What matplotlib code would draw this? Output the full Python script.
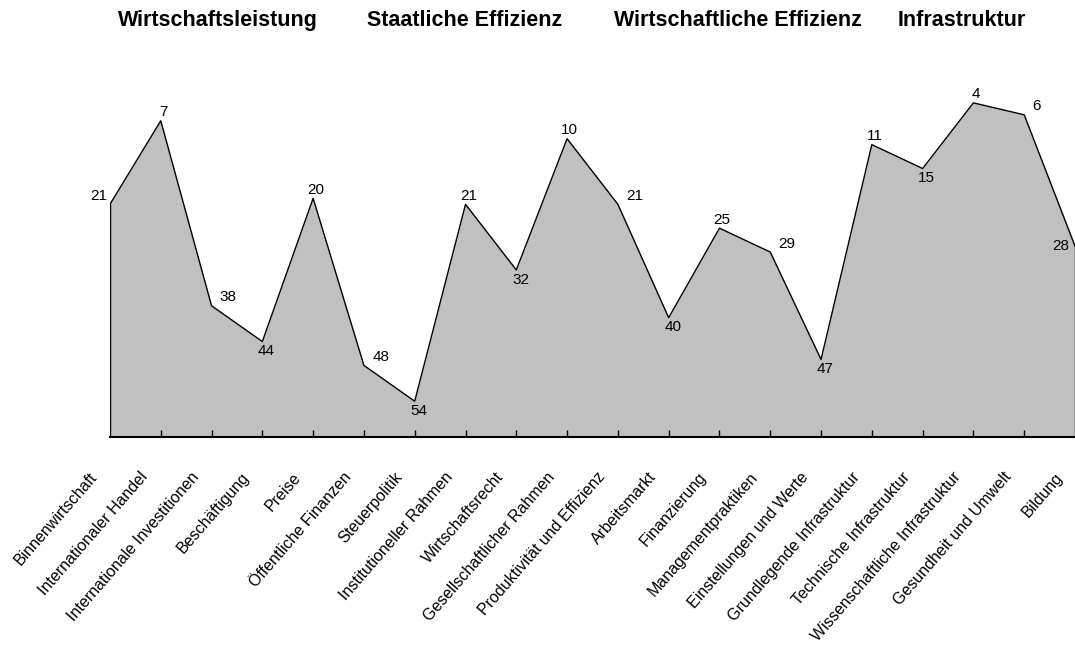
import numpy as np
import matplotlib
matplotlib.use("Agg")
import matplotlib.pyplot as plt

# category names, in plotting order
categories = [
    "Binnenwirtschaft", "Internationaler Handel", "Internationale Investitionen",
    "Beschäftigung", "Preise", "Öffentliche Finanzen", "Steuerpolitik",
    "Institutioneller Rahmen", "Wirtschaftsrecht", "Gesellschaftlicher Rahmen",
    "Produktivität und Effizienz", "Arbeitsmarkt", "Finanzierung",
    "Managementpraktiken", "Einstellungen und Werte", "Grundlegende Infrastruktur",
    "Technische Infrastruktur", "Wissenschaftliche Infrastruktur",
    "Gesundheit und Umwelt", "Bildung",
]
# rank per category (1 = best)
ranks = [21, 7, 38, 44, 20, 48, 54, 21, 32, 10, 21, 40, 25, 29, 47, 11, 15, 4, 6, 28]
# factor headings
groups = ["Wirtschaftsleistung", "Staatliche Effizienz",
          "Wirtschaftliche Effizienz", "Infrastruktur"]
group_x = [0.203, 0.432, 0.686, 0.895]

plt.rcParams['font.family'] = ['Liberation Sans', 'DejaVu Sans']

fig = plt.figure(figsize=(10.75, 6.46), dpi=100)
ax = fig.add_axes([0.1023, 0.3235, 0.8977, 0.5542])

x = np.arange(len(ranks))
y = np.array(ranks)
ymax = 60

ax.fill_between(x, y, ymax, color='#c0c0c0', linewidth=0)
ax.plot(x, y, color='black', linewidth=1.0)
# closing edges of the area at both ends
ax.plot([x[0], x[0]], [y[0], ymax], color='black', linewidth=1.0)
ax.plot([x[-1], x[-1]], [y[-1], ymax], color='black', linewidth=1.0)

ax.set_xlim(0, len(ranks) - 1)
ax.set_ylim(ymax, 0)

# value labels: peaks above, dips below, slopes to the right, ends to the left
last = len(ranks) - 1
for i, v in enumerate(ranks):
    if i == 0:
        off, ha, va = (-2, 1), 'right', 'bottom'
    elif i == last:
        off, ha, va = (-4, 0), 'right', 'center'
    else:
        prev, nxt = ranks[i - 1], ranks[i + 1]
        if v < prev and v < nxt:
            off, ha, va = (2, 1), 'center', 'bottom'
        elif v > prev and v > nxt:
            off, ha, va = (3, -2), 'center', 'top'
        else:
            off, ha, va = (6, 1), 'left', 'bottom'
    ax.annotate(str(v), (i, v), xytext=off, textcoords='offset points',
                ha=ha, va=va, fontsize=11)

for s in ['top', 'left', 'right']:
    ax.spines[s].set_visible(False)
ax.spines['bottom'].set_linewidth(1.5)
ax.set_yticks([])
ax.set_xticks(x[1:-1])
ax.tick_params(axis='x', direction='in', length=5, width=1, pad=0, labelbottom=False)

for i, name in enumerate(categories):
    ax.annotate(name, (i, ymax), xytext=(-11, -27), textcoords='offset points',
                rotation=49, rotation_mode='anchor', ha='right', va='center',
                fontsize=11.5, annotation_clip=False)

for name, gx in zip(groups, group_x):
    fig.text(gx, 0.969, name, ha='center', va='center', fontsize=15.5,
             fontweight='bold')

fig.savefig('out.png', dpi=100)
